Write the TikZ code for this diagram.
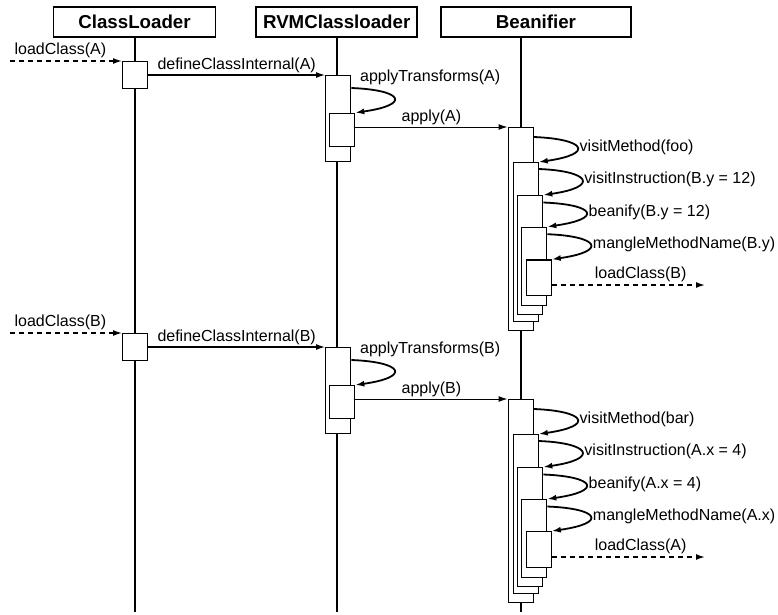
\documentclass[tikz,border=0pt]{standalone}
\usepackage{fontspec}
\setmainfont{Liberation Sans}
\usetikzlibrary{arrows.meta}
\begin{document}
\begin{tikzpicture}[
    x=1pt, y=-1pt,
    every node/.style={font=\fontsize{16}{19}\selectfont, inner sep=2pt},
    head/.style={draw, line width=1.6pt, minimum height=30pt, font=\fontsize{18.7}{22}\selectfont\bfseries},
    life/.style={line width=1.3pt},
    act/.style={draw, fill=white, line width=1.3pt, minimum width=25pt, inner sep=0pt, anchor=north west},
    msg/.style={draw, line width=1.2pt, -{Latex[length=9pt,width=6pt]}},
    async/.style={msg, line width=1.5pt, dash pattern=on 5pt off 4pt},
    self/.style={msg, line width=1.8pt}
]
\useasboundingbox (0,0) rectangle (778,614);
\node[head, minimum width=162pt] (cl) at (134.5,21.7) {ClassLoader};
\node[head, minimum width=161pt] (rvm) at (336.7,21.7) {RVMClassloader};
\node[head, minimum width=190pt] (bean) at (536,21.7) {Beanifier};
\coordinate (e1) at (135,612);
\coordinate (e2) at (337,612);
\coordinate (e3) at (521,612);
\draw[life] (cl.south -| e1) -- (e1);
\draw[life] (rvm.south -| e2) -- (e2);
\draw[life] (bean.south -| e3) -- (e3);

\node[act, minimum height=27.3pt] (c1) at (122,60.7) {};
\node[act, minimum height=85.7pt] (r1) at (325,75) {};
\node[act, minimum height=33.3pt] (r2) at (329,112.7) {};
\node[act, minimum height=203pt] (b1) at (507.5,127) {};
\node[act, minimum height=159pt] (b2) at (512.5,162) {};
\node[act, minimum height=118.5pt] (b3) at (517,195) {};
\node[act, minimum height=78.3pt] (b4) at (521,226.7) {};
\node[act, minimum height=35.7pt] (b5) at (525.5,259.3) {};

\node[act, minimum height=27.3pt] (c2) at (122,332.7) {};
\node[act, minimum height=85.7pt] (r3) at (325,347) {};
\node[act, minimum height=33pt] (r4) at (329,385) {};
\node[act, minimum height=202.5pt] (b6) at (507.5,399) {};
\node[act, minimum height=159pt] (b7) at (512.5,434) {};
\node[act, minimum height=118.5pt] (b8) at (517,467) {};
\node[act, minimum height=78pt] (b9) at (521,499) {};
\node[act, minimum height=36pt] (b10) at (525.5,531) {};

\coordinate (inA) at (10,61);
\draw[async] (inA) -- (inA -| c1.west) node[pos=.45, above] {loadClass(A)};
\draw[msg] (c1.east |- r1.north) -- (r1.north west) node[midway, above] {defineClassInternal(A)};
\draw[self] ([yshift=-13pt]r1.north east) .. controls +(52,2) and +(56,-8) .. (r2.north east)
    node[pos=0, anchor=south west, xshift=6pt] {applyTransforms(A)};
\draw[msg, line width=1pt] (r2.east |- b1.north) -- (b1.north west) node[midway, above] {apply(A)};
\draw[self] ([yshift=-10pt]b1.north east) .. controls +(52,2) and +(56,-8) .. (b2.north east)
    node[pos=.5, right] {visitMethod(foo)};
\draw[self] ([yshift=-7pt]b2.north east) .. controls +(52,2) and +(56,-8) .. (b3.north east)
    node[pos=.5, right] {visitInstruction(B.y = 12)};
\draw[self] ([yshift=-7.5pt]b3.north east) .. controls +(52,2) and +(56,-8) .. (b4.north east)
    node[pos=.5, right] {beanify(B.y = 12)};
\draw[self] ([yshift=-7.5pt]b4.north east) .. controls +(52,2) and +(56,-8) .. (b5.north east)
    node[pos=.5, right] {mangleMethodName(B.y)};
\coordinate (outA) at (705,285);
\draw[async] (b5.east |- outA) -- (outA) node[pos=.58, above] {loadClass(B)};

\coordinate (inB) at (10,333);
\draw[async] (inB) -- (inB -| c2.west) node[pos=.45, above] {loadClass(B)};
\draw[msg] (c2.east |- r3.north) -- (r3.north west) node[midway, above] {defineClassInternal(B)};
\draw[self] ([yshift=-13pt]r3.north east) .. controls +(52,2) and +(56,-8) .. (r4.north east)
    node[pos=0, anchor=south west, xshift=6pt] {applyTransforms(B)};
\draw[msg, line width=1pt] (r4.east |- b6.north) -- (b6.north west) node[midway, above] {apply(B)};
\draw[self] ([yshift=-10pt]b6.north east) .. controls +(52,2) and +(56,-8) .. (b7.north east)
    node[pos=.5, right] {visitMethod(bar)};
\draw[self] ([yshift=-7pt]b7.north east) .. controls +(52,2) and +(56,-8) .. (b8.north east)
    node[pos=.5, right] {visitInstruction(A.x = 4)};
\draw[self] ([yshift=-7.5pt]b8.north east) .. controls +(52,2) and +(56,-8) .. (b9.north east)
    node[pos=.5, right] {beanify(A.x = 4)};
\draw[self] ([yshift=-7.5pt]b9.north east) .. controls +(52,2) and +(56,-8) .. (b10.north east)
    node[pos=.5, right] {mangleMethodName(A.x)};
\coordinate (outB) at (705,557);
\draw[async] (b10.east |- outB) -- (outB) node[pos=.58, above] {loadClass(A)};
\end{tikzpicture}
\end{document}
